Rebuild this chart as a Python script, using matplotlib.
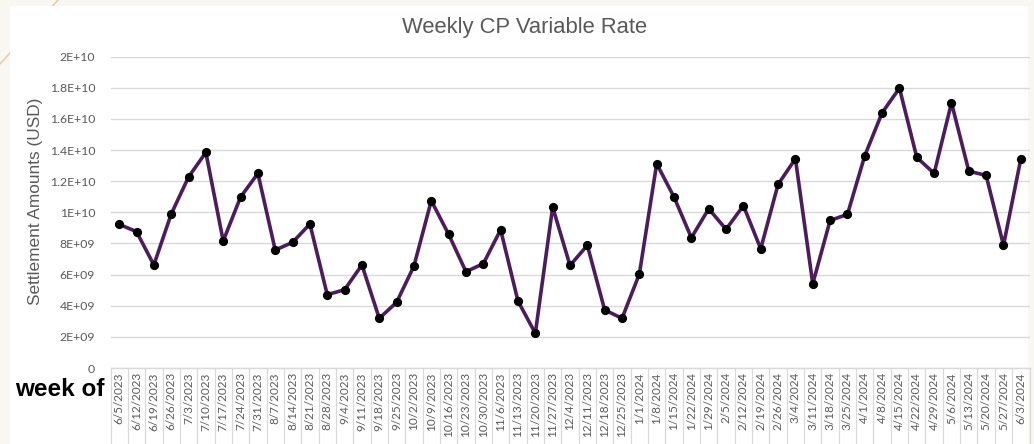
import matplotlib
matplotlib.use('Agg')
import matplotlib.pyplot as plt
from matplotlib import font_manager
from matplotlib.patches import Rectangle
from matplotlib.lines import Line2D
from matplotlib.ticker import FixedLocator

weeks = ['6/5/2023', '6/12/2023', '6/19/2023', '6/26/2023', '7/3/2023', '7/10/2023',
         '7/17/2023', '7/24/2023', '7/31/2023', '8/7/2023', '8/14/2023', '8/21/2023',
         '8/28/2023', '9/4/2023', '9/11/2023', '9/18/2023', '9/25/2023', '10/2/2023',
         '10/9/2023', '10/16/2023', '10/23/2023', '10/30/2023', '11/6/2023', '11/13/2023',
         '11/20/2023', '11/27/2023', '12/4/2023', '12/11/2023', '12/18/2023', '12/25/2023',
         '1/1/2024', '1/8/2024', '1/15/2024', '1/22/2024', '1/29/2024', '2/5/2024',
         '2/12/2024', '2/19/2024', '2/26/2024', '3/4/2024', '3/11/2024', '3/18/2024',
         '3/25/2024', '4/1/2024', '4/8/2024', '4/15/2024', '4/22/2024', '4/29/2024',
         '5/6/2024', '5/13/2024', '5/20/2024', '5/27/2024', '6/3/2024']

settlement = [9.23e9, 8.76e9, 6.62e9, 9.89e9, 12.27e9, 13.85e9,
              8.16e9, 10.98e9, 12.50e9, 7.58e9, 8.07e9, 9.25e9,
              4.71e9, 5.03e9, 6.62e9, 3.19e9, 4.22e9, 6.55e9,
              10.75e9, 8.59e9, 6.19e9, 6.70e9, 8.88e9, 4.30e9,
              2.23e9, 10.34e9, 6.59e9, 7.88e9, 3.73e9, 3.19e9,
              6.04e9, 13.12e9, 10.98e9, 8.37e9, 10.23e9, 8.91e9,
              10.43e9, 7.66e9, 11.80e9, 13.44e9, 5.41e9, 9.48e9,
              9.87e9, 13.64e9, 16.40e9, 17.98e9, 13.53e9, 12.50e9,
              17.04e9, 12.65e9, 12.37e9, 7.88e9, 13.44e9]

ytick_values = [0, 2e9, 4e9, 6e9, 8e9, 1e10, 1.2e10, 1.4e10, 1.6e10, 1.8e10, 2e10]
ytick_labels = ['0', '2E+09', '4E+09', '6E+09', '8E+09', '1E+10',
                '1.2E+10', '1.4E+10', '1.6E+10', '1.8E+10', '2E+10']

title = 'Weekly CP Variable Rate'
ylabel = 'Settlement Amounts (USD)'
xnote = 'week of'


def has_font(name):
    try:
        font_manager.findfont(font_manager.FontProperties(family=name),
                              fallback_to_default=False)
        return True
    except Exception:
        return False


if has_font('Liberation Sans Narrow'):
    narrow = 'Liberation Sans Narrow'
    title_size, ylab_size = 19, 14.5
else:
    narrow = 'Liberation Sans'
    title_size, ylab_size = 15.8, 12.4

tick_font = 'Lato' if has_font('Lato') else 'DejaVu Sans'

W, H = 1034, 444
fig = plt.figure(figsize=(W / 100, H / 100), dpi=100)
fig.patch.set_facecolor('#f9f7f2')

# faint decorative diagonal stroke in the top-left corner
fig.add_artist(Line2D([0 / W, 58 / W], [1 - 64 / H, 1 - 0 / H],
                      transform=fig.transFigure, color='#ecc2a6', lw=1.0, zorder=-2))
# white chart card
fig.add_artist(Rectangle((10 / W, 0), (1028 - 10) / W, (H - 6) / H,
                         transform=fig.transFigure, facecolor='white',
                         edgecolor='none', zorder=-1))

left, right = 110.5 / W, 1029.5 / W
bottom, top = (H - 368) / H, (H - 56.7) / H
ax = fig.add_axes([left, bottom, right - left, top - bottom])
ax.set_facecolor('none')
ax.set_zorder(1)

x = list(range(len(weeks)))
ax.plot(x, settlement, color='#4d1c5c', lw=2.6, zorder=3,
        marker='o', markersize=5.6, markerfacecolor='black', markeredgecolor='black')

ax.set_xlim(-0.5, len(weeks) - 0.5)
ax.set_ylim(0, 2e10)

ax.set_yticks(ytick_values)
ax.set_yticklabels(ytick_labels, fontfamily=tick_font, fontsize=8.8, color='#595959')
ax.tick_params(axis='y', length=0, pad=11)
ax.grid(axis='y', color='#d9d9d9', lw=1.0, zorder=0)

ax.set_xticks(x)
ax.set_xticklabels(weeks, rotation=90, fontfamily=tick_font, fontsize=8.5, color='#595959')
ax.tick_params(axis='x', which='major', length=0, pad=3)
ax.xaxis.set_minor_locator(FixedLocator([i - 0.5 for i in range(len(weeks) + 1)]))
ax.tick_params(axis='x', which='minor', length=56, width=0.9, color='#d9d9d9')

for s in ['top', 'right', 'left']:
    ax.spines[s].set_visible(False)
ax.spines['bottom'].set_color('#d9d9d9')
ax.spines['bottom'].set_linewidth(1.0)

fig.text(525 / W, 1 - 33 / H, title, ha='center', va='baseline',
         fontfamily=narrow, fontsize=title_size, color='#595959')
fig.text(36 / W, 1 - 201 / H, ylabel, ha='center', va='center', rotation=90,
         fontfamily=narrow, fontsize=ylab_size, color='#595959')
fig.text(15 / W, 1 - 396 / H, xnote, ha='left', va='baseline',
         fontfamily='Liberation Sans', fontweight='bold', fontsize=17.5, color='black')

fig.savefig('out.png', dpi=100, facecolor=fig.get_facecolor())
